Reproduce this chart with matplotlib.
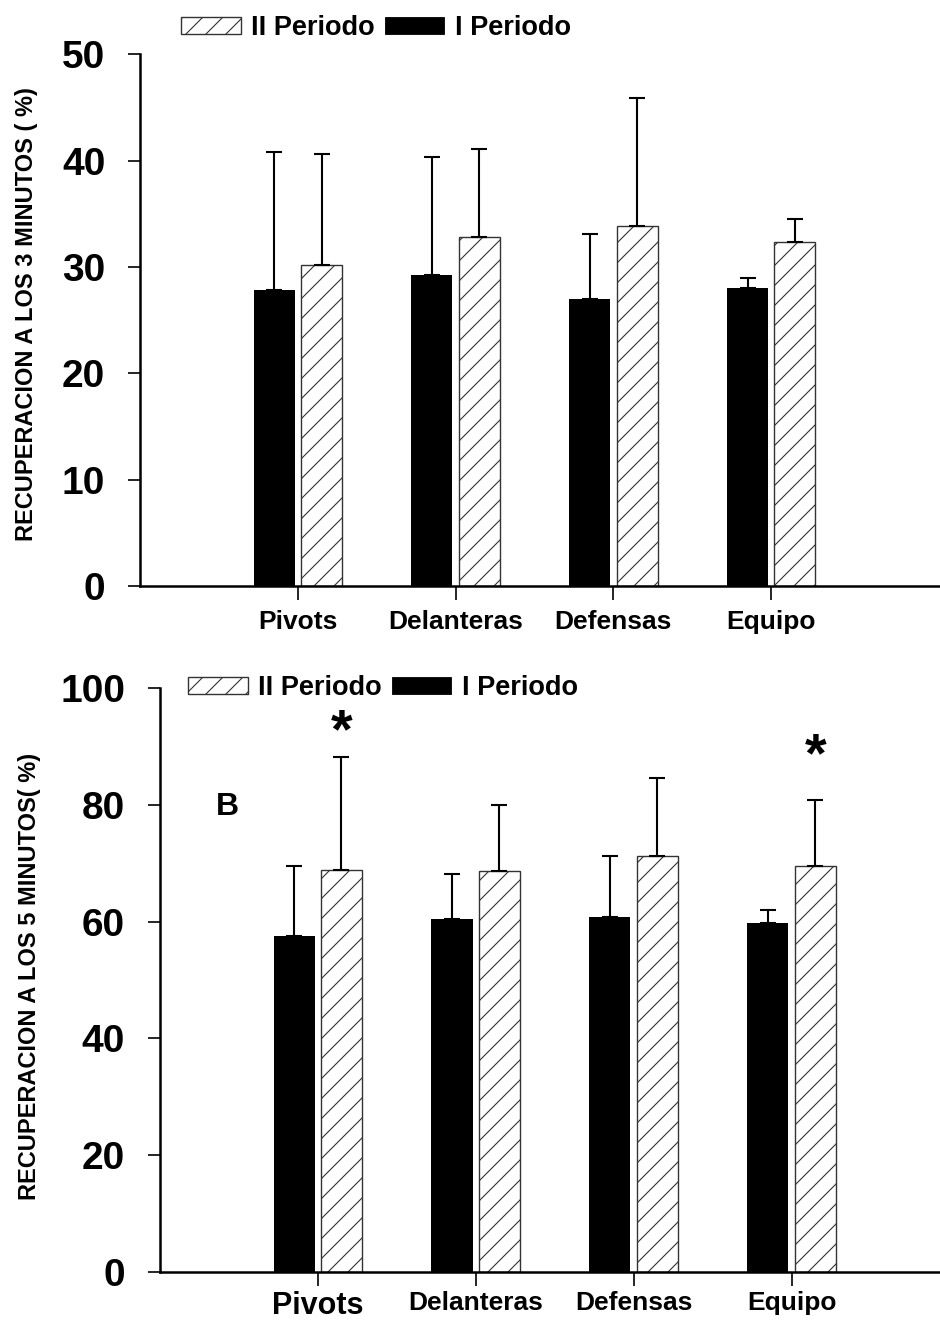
import numpy as np
import matplotlib.pyplot as plt
from matplotlib.patches import Patch

# hatch spacing depends on dpi: '/' draws 6 lines per inch -> ~10 px at 60 dpi
DPI = 60
K = 100 / DPI   # sizes below were picked for 100 dpi

plt.rcParams['font.family'] = ['Liberation Sans', 'DejaVu Sans']
plt.rcParams['font.weight'] = 'bold'
plt.rcParams['hatch.linewidth'] = 0.8 * K

grupos = ["Pivots", "Delanteras", "Defensas", "Equipo"]

# panel A: recuperacion a los 3 minutos (%)
a_p1 = [27.8, 29.2, 27.0, 28.0]
a_p1_err = [13.0, 11.1, 6.1, 1.0]
a_p2 = [30.2, 32.8, 33.8, 32.3]
a_p2_err = [10.4, 8.3, 12.1, 2.2]

# panel B: recuperacion a los 5 minutos (%)
b_p1 = [57.6, 60.5, 60.8, 59.7]
b_p1_err = [12.0, 7.7, 10.4, 2.3]
b_p2 = [68.9, 68.6, 71.2, 69.6]
b_p2_err = [19.3, 11.3, 13.3, 11.2]
b_sig = [92.3, None, None, 88.2]   # asteriscos

x = np.arange(1, len(grupos) + 1)
w = 0.26
off = 0.15

fig = plt.figure(figsize=(940 / DPI, 1320 / DPI), dpi=DPI)
axA = fig.add_axes([0.149, 0.556, 0.851, 0.403])
axB = fig.add_axes([0.170, 0.0364, 0.830, 0.4424])


def panel(ax, p1, e1, p2, e2, ymax, step, xmax):
    ekw = dict(elinewidth=1.5 * K, capthick=1.5 * K, ecolor='black')
    ax.bar(x - off, p1, w, color='black', yerr=[np.zeros(4), e1],
           capsize=6 * K, error_kw=ekw, zorder=2)
    ax.bar(x + off, p2, w, color='white', edgecolor='#333333', linewidth=1 * K,
           hatch='/', yerr=[np.zeros(4), e2], capsize=6 * K, error_kw=ekw, zorder=2)
    ax.set_xlim(0, xmax)
    ax.set_ylim(0, ymax)
    ax.set_yticks(np.arange(0, ymax + 1, step))
    ax.set_xticks(x)
    for s in ['top', 'right']:
        ax.spines[s].set_visible(False)
    for s in ['left', 'bottom']:
        ax.spines[s].set_linewidth(1.8 * K)
    ax.tick_params(axis='y', length=9 * K, width=1.2 * K, pad=16 * K, labelsize=28 * K)
    ax.tick_params(axis='x', length=10 * K, width=1.2 * K, pad=7 * K)


panel(axA, a_p1, a_p1_err, a_p2, a_p2_err, 50, 10, 5.07)
panel(axB, b_p1, b_p1_err, b_p2, b_p2_err, 100, 20, 4.94)

axA.set_xticklabels(grupos, fontsize=19 * K)
axB.set_xticklabels(grupos, fontsize=19 * K)
axB.tick_params(axis='x', pad=4 * K)
axB.get_xticklabels()[0].set_fontsize(22 * K)

for xi, s in zip(x + off, b_sig):
    if s is not None:
        axB.text(xi, s, '*', ha='center', va='center', fontsize=40 * K,
                 fontweight='bold')

fig.text(0.2298, 0.3826, 'B', fontsize=23 * K, fontweight='bold')

fig.text(0.028, 0.762, 'RECUPERACION A LOS 3 MINUTOS ( %)', rotation=90,
         ha='center', va='center', fontsize=17 * K)
fig.text(0.031, 0.2606, 'RECUPERACION A LOS 5 MINUTOS( %)', rotation=90,
         ha='center', va='center', fontsize=17 * K)

handles = [Patch(facecolor='white', edgecolor='#333333', hatch='/', linewidth=1 * K),
           Patch(facecolor='black', edgecolor='black')]
labels = ['II Periodo', 'I Periodo']
for anchor in [(0.1926, 0.9788), (0.200, 0.4788)]:
    fig.legend(handles, labels, loc='center left', bbox_to_anchor=anchor,
               ncol=2, frameon=False, fontsize=19.5 * K, borderpad=0,
               handlelength=2.2, handleheight=0.55, handletextpad=0.4,
               columnspacing=0.35, borderaxespad=0)

fig.savefig('out.png', dpi=DPI)
